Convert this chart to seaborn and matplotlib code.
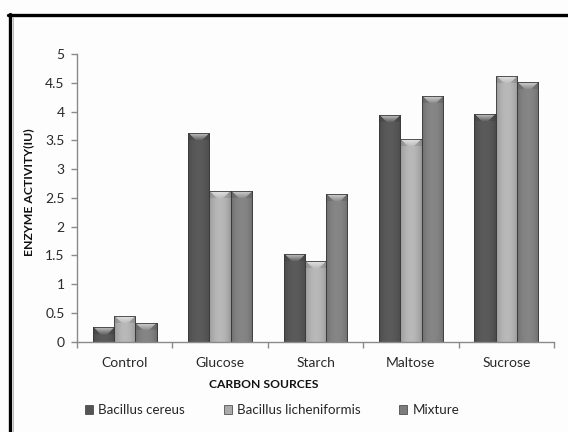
import numpy as np
import pandas as pd

import matplotlib
matplotlib.use('Agg')

import matplotlib.pyplot as plt
import seaborn as sns
from matplotlib.colors import to_rgb
from matplotlib.lines import Line2D
from matplotlib.patches import Patch


# =========================================================
# DATA
# =========================================================

categories = ['Control', 'Glucose', 'Starch', 'Maltose', 'Sucrose']

series_names = ['Bacillus cereus', 'Bacillus licheniformis', 'Mixture']

bacillus_cereus = [0.25, 3.63, 1.52, 3.94, 3.96]
bacillus_licheniformis = [0.45, 2.62, 1.40, 3.52, 4.62]
mixture = [0.33, 2.62, 2.56, 4.27, 4.51]

y_ticks = [0, 0.5, 1, 1.5, 2, 2.5, 3, 3.5, 4, 4.5, 5]
y_tick_labels = ['0', '0.5', '1', '1.5', '2', '2.5', '3', '3.5', '4', '4.5', '5']

colors = ['#545454', '#ababab', '#7c7c7c']

df = pd.DataFrame({
    'source': categories * 3,
    'series': [s for s in series_names for _ in categories],
    'activity': bacillus_cereus + bacillus_licheniformis + mixture,
})


# =========================================================
# FIGURE
# =========================================================

sns.set_style('white')
plt.rcParams['font.family'] = ['Lato', 'DejaVu Sans']

W, H = 568, 432
fig = plt.figure(figsize=(W / 100, H / 100), dpi=100)
fig.patch.set_facecolor('#fdfdfd')

ax = fig.add_axes([77 / W, 1 - 341.7 / H, (554 - 77) / W, (341.7 - 54) / H])
ax.set_facecolor('#fdfdfd')

sns.barplot(
    data=df,
    x='source',
    y='activity',
    hue='series',
    hue_order=series_names,
    order=categories,
    palette=colors,
    saturation=1,
    width=0.67,
    edgecolor='#3a3a3a',
    linewidth=0.6,
    legend=False,
    ax=ax
)

ax.set_ylim(0, 5)
ax.set_xlim(-0.5, len(categories) - 0.5)

# px per data unit, for the bevel
px_per_unit = (341.7 - 54) / 5


# ---------------------------------------------------------
# gradient + bevel on each bar
# ---------------------------------------------------------

def bar_image(rgb, w_px, h_px):
    nx = max(int(round(w_px)), 2)
    ny = max(int(round(h_px)), 2)
    u = (np.arange(nx) + 0.5) / nx
    # horizontal shading: darker edges, lighter centre
    prof = 0.84 + 0.24 * np.sin(np.pi * u) ** 0.6
    img = np.ones((ny, nx, 3)) * np.array(rgb)[None, None, :]
    img = img * prof[None, :, None]
    # top bevel (trapezoid highlight)
    bev = 7.0
    d = np.arange(ny)[:, None] + 0.5
    side = np.minimum(np.arange(nx) + 0.5, nx - np.arange(nx) - 0.5)[None, :]
    top = (d < bev) & (d < side)
    amt = np.clip(0.6 * (1 - d / bev) + 0.05, 0, 1)
    amt = np.broadcast_to(amt, (ny, nx))
    light = img + (1 - img) * amt[:, :, None]
    img = np.where(top[:, :, None], light, img)
    # slightly darker sloped sides of the bevel
    sides = (d < bev) & (d >= side)
    img = np.where(sides[:, :, None], img * 0.9, img)
    return np.clip(img, 0, 1)


for patch in list(ax.patches):
    x0 = patch.get_x()
    w = patch.get_width()
    h = patch.get_height()
    if h <= 0:
        continue
    rgb = to_rgb(patch.get_facecolor())
    w_px = w * (554 - 77) / len(categories)
    h_px = h * px_per_unit
    img = bar_image(rgb, w_px, h_px)
    im = ax.imshow(
        img,
        extent=[x0, x0 + w, 0, h],
        origin='upper',
        aspect='auto',
        interpolation='bilinear',
        zorder=patch.get_zorder() + 0.1
    )
    im.set_clip_path(patch)
    outline = plt.Rectangle(
        (x0, 0), w, h,
        fill=False,
        edgecolor='#3a3a3a',
        linewidth=0.6,
        zorder=patch.get_zorder() + 0.2
    )
    ax.add_patch(outline)

ax.set_xlim(-0.5, len(categories) - 0.5)
ax.set_ylim(0, 5)


# ---------------------------------------------------------
# axes styling
# ---------------------------------------------------------

for s in ['top', 'right']:
    ax.spines[s].set_visible(False)

for s in ['left', 'bottom']:
    ax.spines[s].set_color('#8a8a8a')
    ax.spines[s].set_linewidth(1.0)

ax.set_yticks(y_ticks)
ax.set_yticklabels(y_tick_labels, fontsize=10, color='#2a2a2a')

ax.set_xticks(np.arange(-0.5, len(categories), 1.0))
ax.set_xticklabels([])
ax.set_xticks(np.arange(len(categories)), minor=True)
ax.set_xticklabels(categories, minor=True, fontsize=10, color='#2a2a2a')

ax.tick_params(axis='y', which='major', direction='out', length=4,
               width=1, color='#8a8a8a', pad=5, left=True)
ax.tick_params(axis='x', which='major', direction='out', length=4,
               width=1, color='#8a8a8a', bottom=True)
ax.tick_params(axis='x', which='minor', length=0, pad=11)

ax.set_xlabel('')
ax.set_ylabel('')

fig.text(28.5 / W, 1 - 192 / H, 'ENZYME ACTIVITY(IU)', rotation=90,
         ha='center', va='center', fontsize=8.8, fontweight='bold',
         color='#111111')

fig.text(264 / W, 1 - 385 / H, 'CARBON SOURCES', ha='center',
         va='center', fontsize=8.7, fontweight='bold', color='#111111')


# ---------------------------------------------------------
# legend
# ---------------------------------------------------------

handles = [
    Patch(facecolor=c, edgecolor='#3a3a3a', linewidth=0.5)
    for c in colors
]

fig.legend(
    handles,
    series_names,
    loc='center',
    bbox_to_anchor=(272 / W, 1 - 410 / H),
    ncol=3,
    frameon=False,
    fontsize=9.6,
    handlelength=0.6,
    handleheight=0.6,
    handletextpad=0.4,
    columnspacing=2.9
)


# ---------------------------------------------------------
# outer frame (top and left visible)
# ---------------------------------------------------------

fig.add_artist(Line2D([8 / W, 1], [1 - 14.5 / H, 1 - 14.5 / H],
                      color='black', linewidth=2.4,
                      transform=fig.transFigure))
fig.add_artist(Line2D([9.5 / W, 9.5 / W], [0, 1 - 13.5 / H],
                      color='black', linewidth=2.4,
                      transform=fig.transFigure))
fig.add_artist(Line2D([12.5 / W, 12.5 / W], [0, 1 - 16.5 / H],
                      color='#b0b0b0', linewidth=0.6,
                      transform=fig.transFigure))

fig.savefig('out.png', dpi=100, facecolor=fig.get_facecolor())
